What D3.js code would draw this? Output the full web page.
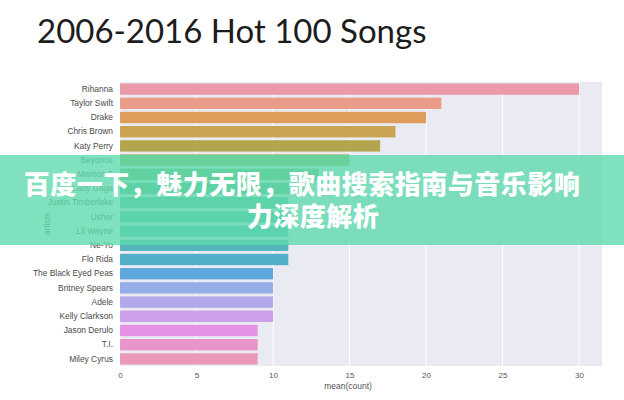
<!DOCTYPE html>
<html>
<head>
<meta charset="utf-8">
<script src="https://cdn.jsdelivr.net/npm/d3@7"></script>
<style>
  body { margin: 0; background: #fff; }
  svg { display: block; }
</style>
</head>
<body>
<svg id="chart" width="624" height="400"></svg>
<script>
const title = "2006-2016 Hot 100 Songs";
const artists = ["Rihanna","Taylor Swift","Drake","Chris Brown","Katy Perry","Beyonce","Maroon 5","Lady Gaga","Justin Timberlake","Usher","Lil Wayne","Ne-Yo","Flo Rida","The Black Eyed Peas","Britney Spears","Adele","Kelly Clarkson","Jason Derulo","T.I.","Miley Cyrus"];
const meanCount = [30,21,20,18,17,15,13,12,11,11,11,11,11,10,10,10,10,9,9,9];
const barColors = ["#eb9aaa","#eb9c88","#de9d5b","#c9a252","#b3a54d","#92ad55","#6fb46a","#5cb67e","#55b895","#56b7a4","#57b6b0","#55b4bc","#52aec6","#5ea9dc","#94aee8","#b2a8ea","#cc9fea","#e592e5","#ea94cc","#eb99b8"];
const xTicks = [0,5,10,15,20,25,30];
const xLabel = "mean(count)";
const yLabel = "artists";
const bannerLines = ["百度一下，魅力无限，歌曲搜索指南与音乐影响","力深度解析"];

(function () {
const svg = d3.select("#chart");
const pL = 120, pR = 602, pT = 82, pB = 366;
const x = d3.scaleLinear().domain([0, 31.5]).range([pL, pR]);
const y = d3.scaleBand().domain(artists).range([pT, pB]).paddingInner(0.2).paddingOuter(0.1);

svg.append("text").attr("x", 37).attr("y", 43)
  .attr("font-family", "Lato, sans-serif").attr("font-size", 33)
  .attr("fill", "#1c1c1c").text(title);

svg.append("rect").attr("x", pL).attr("y", pT).attr("width", pR - pL).attr("height", pB - pT).attr("fill", "#eaeaf2");

svg.append("g").selectAll("line").data(xTicks).join("line")
  .attr("x1", d => x(d)).attr("x2", d => x(d)).attr("y1", pT).attr("y2", pB)
  .attr("stroke", "#fff").attr("stroke-width", 1);

svg.append("g").selectAll("rect").data(artists).join("rect")
  .attr("x", x(0)).attr("y", d => y(d))
  .attr("width", (d, i) => x(meanCount[i]) - x(0))
  .attr("height", y.bandwidth())
  .attr("fill", (d, i) => barColors[i]);

const yAxis = d3.axisLeft(y).tickSize(0).tickPadding(7);
const gy = svg.append("g").attr("transform", `translate(${pL},0)`).call(yAxis);
gy.select(".domain").remove();
gy.selectAll("text").attr("font-family", "Liberation Sans, Arial, sans-serif").attr("font-size", 8.4).attr("fill", "#4a4a4a");

const xAxis = d3.axisBottom(x).tickValues(xTicks).tickSize(0).tickPadding(6);
const gx = svg.append("g").attr("transform", `translate(0,${pB})`).call(xAxis);
gx.select(".domain").remove();
gx.selectAll("text").attr("font-family", "Liberation Sans, Arial, sans-serif").attr("font-size", 8).attr("fill", "#555");

svg.append("text").attr("x", (pL + pR) / 2 - 13).attr("y", 389)
  .attr("text-anchor", "middle").attr("font-family", "Liberation Sans, Arial, sans-serif")
  .attr("font-size", 8.5).attr("fill", "#555").text(xLabel);

svg.append("text").attr("transform", "translate(50,224) rotate(-90)")
  .attr("text-anchor", "middle").attr("font-family", "Liberation Sans, Arial, sans-serif")
  .attr("font-size", 8.5).attr("fill", "#555").text(yLabel);

svg.append("rect").attr("x", 0).attr("y", 155).attr("width", 624).attr("height", 90)
  .attr("fill", "#5fd9ae").attr("opacity", 0.8);

svg.append("g").selectAll("text").data(bannerLines).join("text")
  .attr("x", (d, i) => i === 0 ? 302 : 313).attr("y", (d, i) => 194 + i * 32)
  .attr("text-anchor", "middle")
  .attr("letter-spacing", 0.5)
  .attr("font-family", "Noto Sans CJK SC, sans-serif").attr("font-weight", 900)
  .attr("font-size", 26).attr("fill", "#fff").text(d => d);
})();
</script>
</body>
</html>
